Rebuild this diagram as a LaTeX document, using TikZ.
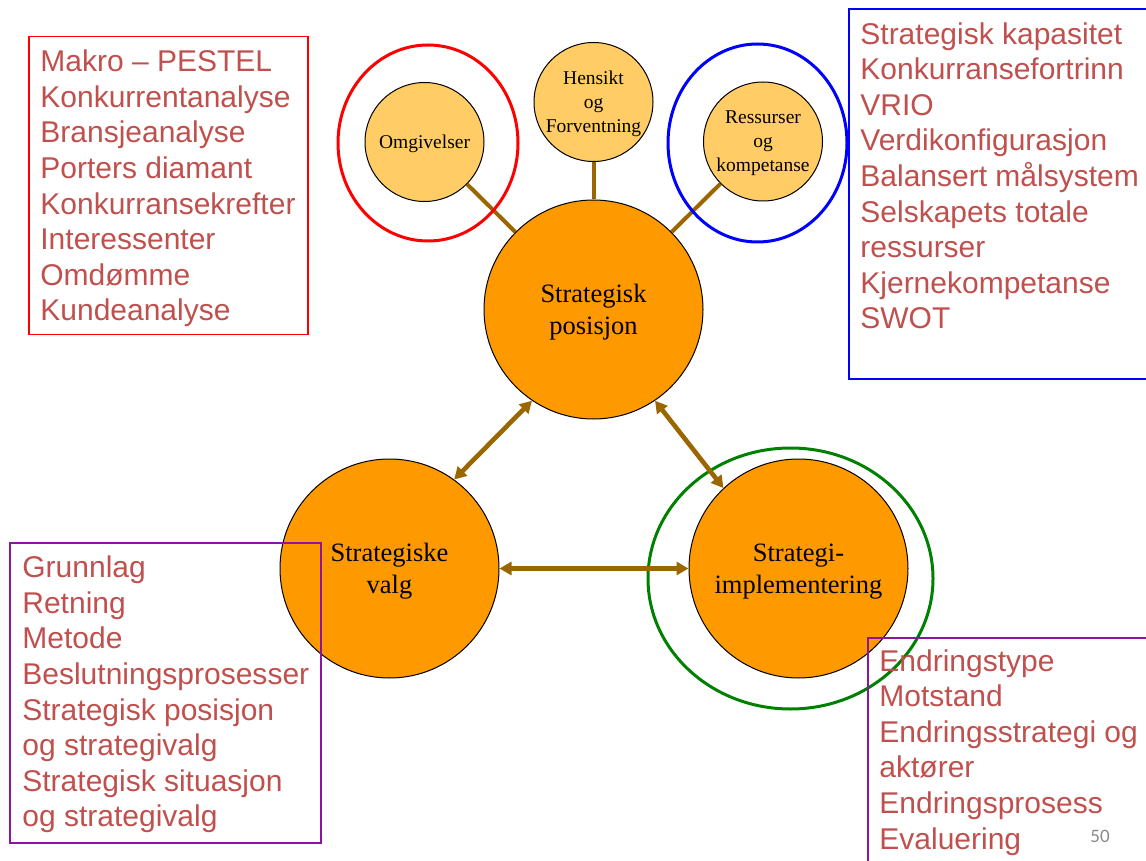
\documentclass[tikz,border=0pt]{standalone}
\usepackage{fontspec}
\setmainfont{Liberation Sans}
\newfontfamily\circlefont{Liberation Serif}
\newfontfamily\slidenumfont{Carlito}
\usetikzlibrary{arrows.meta}

\definecolor{hubfill}{RGB}{255,153,0}
\definecolor{subfill}{RGB}{255,204,102}
\definecolor{linkbrown}{RGB}{153,102,0}
\definecolor{listred}{RGB}{192,80,77}
\definecolor{boxpurple}{RGB}{140,20,160}
\definecolor{ringgreen}{RGB}{0,128,0}
\definecolor{numgray}{RGB}{137,137,137}

\tikzset{
		basic/.style   = {draw, circle, inner sep=0pt, align=center, line width=0.5pt},
		hub/.style     = {basic, fill=hubfill, minimum size=109.5pt, text depth=0pt, font=\circlefont\fontsize{13.25}{16}\selectfont},
		sub/.style     = {basic, fill=subfill, minimum size=59.5pt, text depth=0pt, font=\circlefont\fontsize{9.75}{12}\selectfont},
		link/.style    = {draw=linkbrown, line width=2pt},
		both/.style    = {link, line width=2.3pt, {Triangle[length=6pt,width=6.5pt]}-{Triangle[length=6pt,width=6.5pt]}},
		ring/.style    = {line width=1.5pt},
		listbox/.style = {draw, rectangle, anchor=north west, inner sep=0pt},
		listtext/.style = {anchor=north west, inner sep=0pt, align=left, text=listred, font=\fontsize{15}{17.8}\selectfont}
	}

\begin{document}
\begin{tikzpicture}[x=0.5pt, y=-0.5pt]
		\useasboundingbox (0,0) rectangle (1146,861);
		\clip (0,0) rectangle (1146,861);
		
		% the three main circles
		\node[hub] (pos) at (593.5,309.5) {Strategisk\\posisjon};
		\node[hub] (valg) at (389.5,568.5) {Strategiske\\valg};
		\node[hub] (impl) at (798.5,568.5) {Strategi-\\implementering};
		
		% the small circles on top, joined to the position circle
		\node[sub] (omg) at (424.5,142) {Omgivelser};
		\node[sub] (hens) at (593.5,102) {Hensikt\\og\\Forventning};
		\node[sub] (ress) at (763,141.5) {Ressurser\\og\\kompetanse};
		
		\foreach \n in {omg,hens,ress}
		\draw[link] (\n) -- (pos);
		
		% rings round the circles
		\draw[ring, red] (428,143) ellipse [x radius=45pt, y radius=49pt];
		\draw[ring, blue] (757.5,143) ellipse [x radius=44.75pt, y radius=49.5pt];
		\draw[ring, ringgreen] (790.5,578.5) ellipse [x radius=71.25pt, y radius=65.25pt];
		
		% arrows between the main circles
		\draw[both] (pos.236) -- (valg.54);
		\draw[both] (pos.304) -- (impl.133);
		\draw[both] (valg.east) -- (impl.west);
		
		% the lists
		\node[listbox, draw=red, line width=0.75pt, minimum width=139.5pt, minimum height=149pt] (pestel) at (28,36) {};
		\node[listtext] (pestelt) at (40,49.5) {Makro – PESTEL\\Konkurrentanalyse\\Bransjeanalyse\\Porters diamant\\Konkurransekrefter\\Interessenter\\Omdømme\\Kundeanalyse};
		
		\node[listbox, draw=blue, line width=1pt, minimum width=151pt, minimum height=185pt] (kapas) at (848,8) {};
		\node[listtext] (kapast) at (860,22) {Strategisk kapasitet\\Konkurransefortrinn\\VRIO\\Verdikonfigurasjon\\Balansert målsystem\\Selskapets totale\\ressurser\\Kjernekompetanse\\SWOT};
		
		\node[listbox, draw=boxpurple, line width=0.75pt, minimum width=155.5pt, minimum height=150pt] (grunn) at (9,542) {};
		\node[listtext] (grunnt) at (22,555.5) {Grunnlag\\Retning\\Metode\\Beslutningsprosesser\\Strategisk posisjon\\og strategivalg\\Strategisk situasjon\\og strategivalg};
		
		\node[listbox, draw=boxpurple, line width=0.75pt, minimum width=145pt, minimum height=120pt] (endr) at (867,637) {};
		\node[listtext] (endrt) at (879,649) {Endringstype\\Motstand\\Endringsstrategi og\\aktører\\Endringsprosess\\Evaluering};
		
		\node[text=numgray, font=\slidenumfont\fontsize{9.5}{11}\selectfont] (slidenum) at (1100,836) {50};
		
	\end{tikzpicture}
\end{document}
